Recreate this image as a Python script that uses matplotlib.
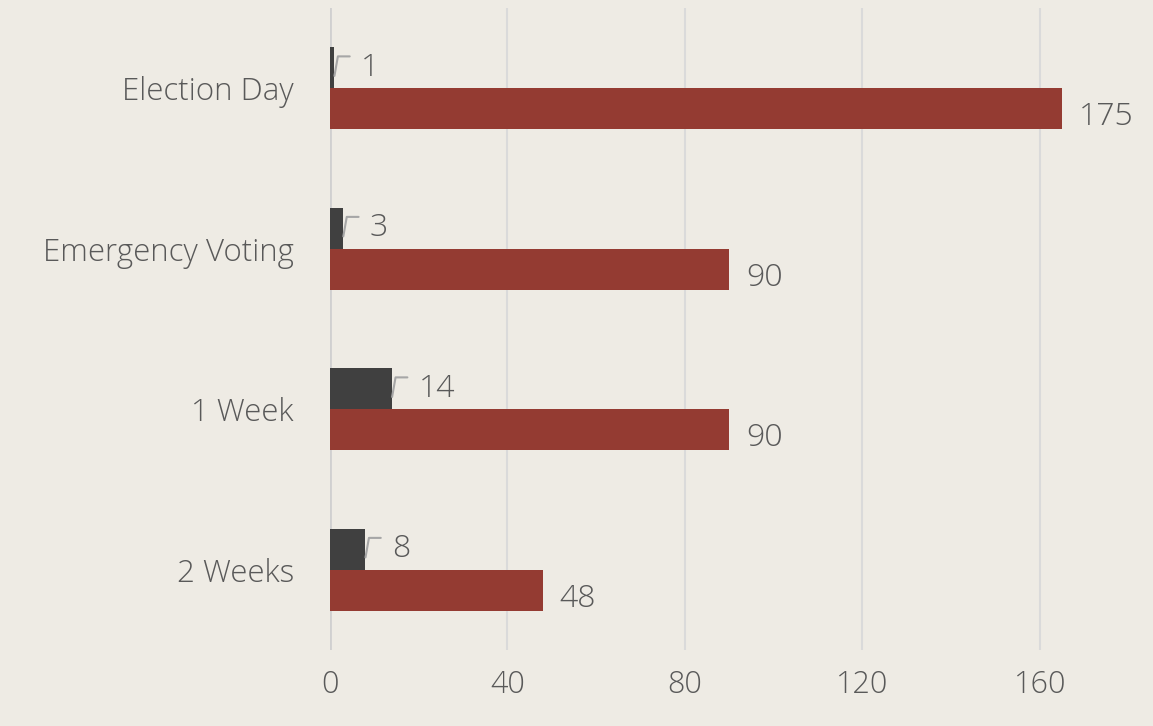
import matplotlib
matplotlib.use("Agg")
import matplotlib.pyplot as plt
import numpy as np

plt.rcParams['font.family'] = ['Open Sans', 'DejaVu Sans']
plt.rcParams['font.weight'] = 'light'

categories = ["Election Day", "Emergency Voting", "1 Week", "2 Weeks"]
dark_vals = [1, 3, 14, 8]
red_vals = [175, 90, 90, 48]
x_ticks = [0, 40, 80, 120, 160]
x_max = 165

bg = "#EEEBE4"
red = "#943B32"
dark = "#404040"
txt = "#595959"

fig = plt.figure(figsize=(11.53, 7.26), dpi=100, facecolor=bg)
ax = fig.add_axes([330 / 1153, 1 - 650 / 726, (1062 - 330) / 1153, 642 / 726])
ax.set_facecolor(bg)

y = np.arange(len(categories))
h = 0.256
ax.barh(y - h / 2, dark_vals, height=h, color=dark, zorder=3)
ax.barh(y + h / 2, red_vals, height=h, color=red, zorder=3)

ax.set_xlim(0, x_max)
ax.set_ylim(len(categories) - 0.5, -0.5)
ax.set_xticks(x_ticks)
ax.set_xticklabels([str(t) for t in x_ticks])
ax.set_yticks(y)
ax.set_yticklabels(categories)
ax.tick_params(axis='x', length=0, pad=14, labelsize=22, labelcolor=txt)
ax.tick_params(axis='y', length=0, pad=26, labelsize=22.5, labelcolor=txt)
ax.grid(axis='x', color="#DADADA", linewidth=1.5, zorder=0)
for s in ax.spines.values():
    s.set_visible(False)
ax.axvline(0, color="#D0D0D0", linewidth=2, zorder=2)

# value labels for red bars (outside, slightly below centre)
for yi, v in zip(y, red_vals):
    xe = min(v, x_max)
    ax.annotate(str(v), (xe, yi + h / 2), xytext=(12, -6), textcoords='offset points',
                ha='left', va='center', fontsize=23, color=txt, annotation_clip=False)

# value labels for dark bars with small leader lines
for yi, v in zip(y, dark_vals):
    ax.annotate(str(v), (v, yi - h * 0.3), xytext=(19, 6), textcoords='offset points',
                ha='left', va='center', fontsize=23, color=txt,
                arrowprops=dict(arrowstyle='-', color="#A6A6A6", lw=1.5,
                                connectionstyle="angle,angleA=0,angleB=80,rad=0",
                                shrinkA=6, shrinkB=0, relpos=(0, 0.85)))

fig.savefig("out.png", dpi=100, facecolor=bg)
